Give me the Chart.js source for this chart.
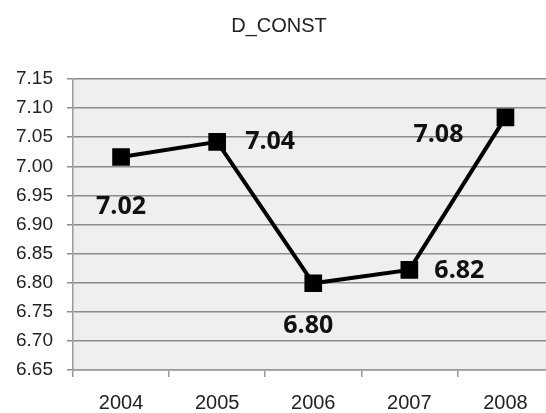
<!DOCTYPE html>
<html>
<head>
<meta charset="utf-8">
<script src="https://cdn.jsdelivr.net/npm/chart.js@4"></script>
<style>
  html, body { margin: 0; padding: 0; background: #fff; overflow: hidden; }
  #wrap { width: 566px; height: 413px; }
</style>
</head>
<body>
<div id="wrap"><canvas id="chart" width="566" height="413"></canvas></div>
<script>
// Chart data
let years = ["2004", "2005", "2006", "2007", "2008"];
let dConst = [7.016, 7.042, 6.799, 6.822, 7.084];
let valueLabels = ["7.02", "7.04", "6.80", "6.82", "7.08"];
let yTicks = [6.65, 6.70, 6.75, 6.80, 6.85, 6.90, 6.95, 7.00, 7.05, 7.10, 7.15];

// Label offsets from each point (px)
let labelOffsets = [
  [0, 50],
  [53, 0],
  [-5, 43],
  [50, 1],
  [-67, 17],
];

// Grey plot background
let plotBackground = {
  id: "plotBackground",
  beforeDraw(chart) {
    let a = chart.chartArea;
    let ctx = chart.ctx;
    ctx.save();
    ctx.fillStyle = "#efefef";
    ctx.fillRect(a.left, a.top, a.right - a.left, a.bottom - a.top);
    ctx.restore();
  },
};

// Bold value labels next to points
let valueLabelPlugin = {
  id: "valueLabels",
  afterDatasetsDraw(chart) {
    let ctx = chart.ctx;
    let meta = chart.getDatasetMeta(0);
    ctx.save();
    ctx.font = "bold 25px 'Open Sans', sans-serif";
    ctx.fillStyle = "#111";
    ctx.textAlign = "center";
    ctx.textBaseline = "middle";
    meta.data.forEach(function (pt, i) {
      ctx.fillText(valueLabels[i], pt.x + labelOffsets[i][0], pt.y + labelOffsets[i][1]);
    });
    ctx.restore();
  },
};

let ctx = document.getElementById("chart").getContext("2d");

new Chart(ctx, {
  type: "line",
  data: {
    labels: years,
    datasets: [
      {
        label: "D_CONST",
        data: dConst,
        borderColor: "#000",
        borderWidth: 4,
        backgroundColor: "#000",
        pointStyle: "rect",
        pointRadius: 12.5,
        pointBorderWidth: 0,
        pointBackgroundColor: "#000",
        tension: 0,
      },
    ],
  },
  options: {
    responsive: false,
    animation: false,
    layout: { padding: { left: 0, right: 8, top: 0, bottom: 0 } },
    plugins: {
      legend: { display: false },
      tooltip: { enabled: false },
      title: {
        display: true,
        text: "D_CONST",
        color: "#222",
        font: { family: "'Liberation Sans', Arial, sans-serif", size: 20, weight: "normal" },
        padding: { top: 14, bottom: 41 },
      },
    },
    scales: {
      x: {
        offset: true,
        grid: {
          offset: true,
          drawOnChartArea: false,
          color: "#9a9a9a",
          lineWidth: 1.5,
          tickLength: 7,
        },
        border: { color: "#9a9a9a", width: 1.5 },
        ticks: {
          color: "#222",
          padding: 14,
          font: { family: "'Liberation Sans', Arial, sans-serif", size: 20 },
        },
        afterFit(scale) { scale.height = 43; },
      },
      y: {
        min: 6.65,
        max: 7.15,
        afterBuildTicks(scale) {
          scale.ticks = yTicks.map(function (v) { return { value: v }; });
        },
        grid: {
          color: "#8c8c8c",
          lineWidth: 1.5,
          tickLength: 6,
        },
        border: { color: "#9a9a9a", width: 1.5 },
        ticks: {
          color: "#222",
          padding: 14,
          font: { family: "'Liberation Sans', Arial, sans-serif", size: 19 },
          callback: function (v) { return Number(v).toFixed(2); },
        },
        afterFit(scale) { scale.width = 73; },
      },
    },
  },
  plugins: [plotBackground, valueLabelPlugin],
});
</script>
</body>
</html>
